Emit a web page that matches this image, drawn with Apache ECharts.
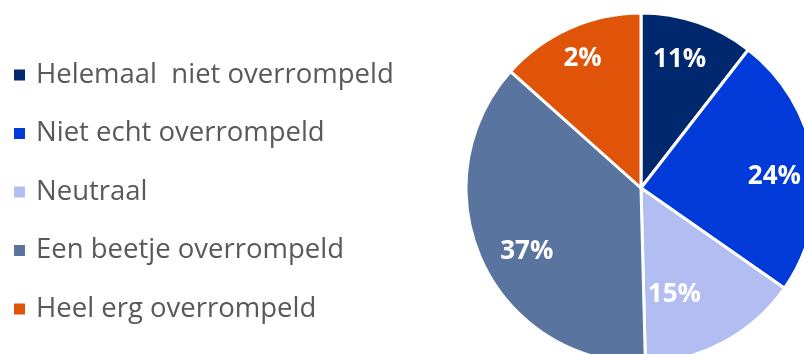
<!DOCTYPE html>
<html><head><meta charset="utf-8">
<script src="https://cdn.jsdelivr.net/npm/echarts@6/dist/echarts.min.js"></script>
<style>html,body{margin:0;padding:0;background:#fff}#c{width:804px;height:354px}</style>
</head><body><div id="c"></div>
<script>
const categories = ['Helemaal  niet overrompeld','Niet echt overrompeld','Neutraal','Een beetje overrompeld','Heel erg overrompeld'];
const sliceValues = [10.5, 24.2, 14.9, 37.0, 13.4];
const labelTexts = ['11%','24%','15%','37%','2%'];
const colors = ['#00286E','#003AD8','#B2BDF1','#5A74A0','#E0540A'];
const labelOffsets = [[-6,2],[-3,9],[-32,-15],[11,6],[-2,-3]];

const chart = echarts.init(document.getElementById('c'), null, {renderer:'canvas'});
const mainData = categories.map((n,i)=>({name:n, value:sliceValues[i], itemStyle:{color:colors[i]}}));
const labelData = categories.map((n,i)=>({name:n, value:sliceValues[i], label:{formatter:labelTexts[i], offset:labelOffsets[i]}}));
chart.setOption({
  animation:false,
  legend:{
    orient:'vertical', left:12, top:61, padding:0,
    icon:'rect', itemWidth:13, itemHeight:13, itemGap:30.5,
    textStyle:{fontFamily:'Open Sans', fontSize:27.5, lineHeight:27, color:'#595959', padding:[0,0,0,5]},
    data:categories
  },
  series:[
    {type:'pie', center:[641,188], radius:[0,175], startAngle:90, clockwise:true,
     label:{show:false}, labelLine:{show:false}, emphasis:{disabled:true},
     itemStyle:{borderColor:'#fff', borderWidth:3},
     data:mainData},
    {type:'pie', center:[641,188], radius:[95,175], startAngle:90, clockwise:true, silent:true,
     legendHoverLink:false,
     itemStyle:{color:'rgba(0,0,0,0)', borderWidth:0},
     label:{show:true, position:'inside', color:'#fff', fontFamily:'Open Sans', fontWeight:'bold', fontSize:26},
     labelLine:{show:false}, emphasis:{disabled:true},
     data:labelData}
  ]
});
</script></body></html>
